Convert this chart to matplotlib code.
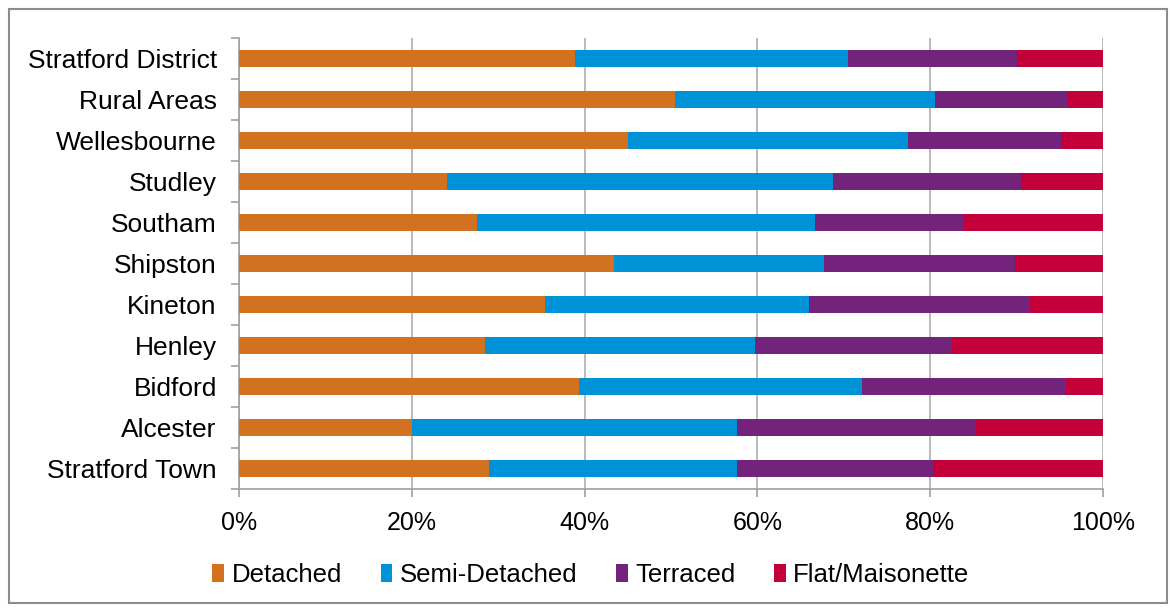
import matplotlib
matplotlib.use("Agg")
import matplotlib.pyplot as plt
from matplotlib.patches import Rectangle
from matplotlib.ticker import FixedLocator, PercentFormatter

plt.rcParams['font.family'] = ['Liberation Sans', 'DejaVu Sans']

areas = ["Stratford District", "Rural Areas", "Wellesbourne", "Studley", "Southam",
         "Shipston", "Kineton", "Henley", "Bidford", "Alcester", "Stratford Town"]
detached = [38.9, 50.5, 45.0, 24.1, 27.5, 43.4, 35.4, 28.5, 39.4, 20.0, 28.9]
semi_detached = [31.6, 30.1, 32.4, 44.6, 39.2, 24.3, 30.6, 31.2, 32.7, 37.6, 28.7]
terraced = [19.5, 15.3, 17.7, 21.8, 17.2, 22.1, 25.5, 22.8, 23.6, 27.7, 22.7]
flat = [10.0, 4.1, 4.9, 9.5, 16.1, 10.2, 8.5, 17.5, 4.3, 14.7, 19.7]

series = [("Detached", detached, "#D2711F"),
          ("Semi-Detached", semi_detached, "#0092D6"),
          ("Terraced", terraced, "#73237C"),
          ("Flat/Maisonette", flat, "#C3003A")]

fig = plt.figure(figsize=(11.7, 6.1), dpi=100)
ax = fig.add_axes([239/1170, 1-489/610, (1103-239)/1170, (489-38)/610])

ypos = list(range(len(areas)))
left = [0.0]*len(areas)
for name, vals, col in series:
    ax.barh(ypos, vals, left=left, height=0.42, color=col, label=name, zorder=3)
    left = [l + v for l, v in zip(left, vals)]

ax.set_xlim(0, 100)
ax.set_ylim(len(areas)-0.5, -0.5)
ax.set_yticks(ypos)
ax.set_yticklabels(areas, fontsize=19)
ax.yaxis.set_minor_locator(FixedLocator([i-0.5 for i in range(len(areas)+1)]))
ax.tick_params(axis='y', which='major', length=0, pad=16)
ax.tick_params(axis='y', which='minor', length=6, color='#A0A0A0', width=1.2)
ax.set_xticks([0, 20, 40, 60, 80, 100])
ax.xaxis.set_major_formatter(PercentFormatter(decimals=0))
ax.tick_params(axis='x', which='major', length=6, color='#A0A0A0', width=1.2, labelsize=18, pad=10)
ax.grid(axis='x', color='#B4B4B4', linewidth=1.3, zorder=0)
for s in ['top', 'right']:
    ax.spines[s].set_visible(False)
for s in ['left', 'bottom']:
    ax.spines[s].set_color('#A0A0A0')
    ax.spines[s].set_linewidth(1.2)

leg = fig.legend(loc='center', bbox_to_anchor=(591/1170, 1-575/610), ncol=4, frameon=False,
                 fontsize=18.5, handlelength=0.45, handleheight=0.75, handletextpad=0.3,
                 columnspacing=1.5)

fig.patches.append(Rectangle((9/1170, 1-603/610), (1167-9)/1170, (603-9)/610,
                             transform=fig.transFigure, fill=False, edgecolor='#8C8C8C',
                             linewidth=1.5))

fig.savefig("out.png", dpi=100)
